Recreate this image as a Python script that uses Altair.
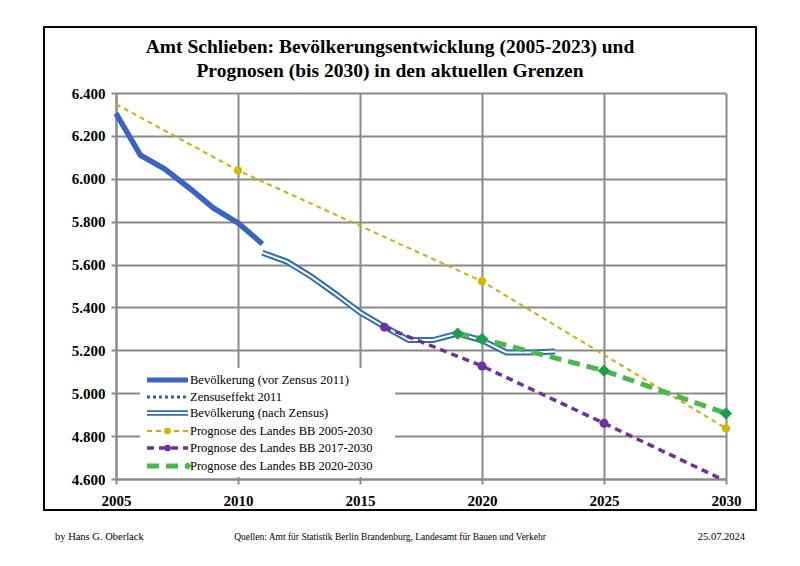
import altair as alt
import pandas as pd

# ---- data ----
years_pre = [2005, 2006, 2007, 2008, 2009, 2010, 2011]
pop_pre = [6305, 6110, 6045, 5957, 5863, 5794, 5696]

years_post = [2011, 2012, 2013, 2014, 2015, 2016, 2017, 2018, 2019, 2020, 2021, 2022, 2023]
pop_post = [5655, 5614, 5544, 5463, 5377, 5310, 5248, 5248, 5278, 5247, 5190, 5190, 5195]

years_p05 = [2005, 2010, 2020, 2030]
vals_p05 = [6348, 6039, 5522, 4836]
marker_p05 = [False, True, True, True]

years_p17 = [2016, 2020, 2025, 2030]
vals_p17 = [5308, 5127, 4860, 4590]
marker_p17 = [True, True, True, False]

years_p20 = [2019, 2020, 2025, 2030]
vals_p20 = [5278, 5253, 5105, 4906]

x_ticks = [2005, 2010, 2015, 2020, 2025, 2030]
y_ticks = [4600, 4800, 5000, 5200, 5400, 5600, 5800, 6000, 6200, 6400]

title_lines = ["Amt Schlieben:  Bevölkerungsentwicklung (2005-2023) und",
               "Prognosen (bis 2030) in den aktuellen Grenzen"]
legend_labels = ["Bevölkerung (vor Zensus 2011)", "Zensuseffekt 2011",
                 "Bevölkerung (nach Zensus)", "Prognose des Landes BB 2005-2030",
                 "Prognose des Landes BB 2017-2030", "Prognose des Landes BB 2020-2030"]
footer_left = "by Hans G. Oberlack"
footer_mid = "Quellen: Amt für Statistik Berlin Brandenburg, Landesamt für Bauen und Verkehr"
footer_right = "25.07.2024"

# ---- styles ----
SERIF = "Liberation Serif"
C_PRE = "#3a63c2"
C_POST = "#2e6db4"
C_Y = "#c9b300"
C_YM = "#d4b800"
C_P = "#7030a0"
C_G = "#4cb84c"
C_GM = "#1c9e4c"
GRID = "#8a8a8a"

W, H = 610, 386

xs = alt.Scale(domain=[2005, 2030], nice=False)
ys = alt.Scale(domain=[4600, 6400], nice=False)
x_axis = alt.Axis(values=x_ticks, format="d", title=None, grid=True, labelPadding=9,
                  labelFlush=False)
y_axis = alt.Axis(values=y_ticks, title=None, grid=True, labelPadding=6, labelFlush=False,
                  labelExpr="replace(format(datum.value, ',.0f'), ',', '.')")

def xe():
    return alt.X("year:Q", scale=xs, axis=x_axis)

def ye():
    return alt.Y("v:Q", scale=ys, axis=y_axis)

df_pre = pd.DataFrame({"year": years_pre, "v": pop_pre})
df_post = pd.DataFrame({"year": years_post, "v": pop_post})
df_p05 = pd.DataFrame({"year": years_p05, "v": vals_p05, "m": marker_p05})
df_p17 = pd.DataFrame({"year": years_p17, "v": vals_p17, "m": marker_p17})
df_p20 = pd.DataFrame({"year": years_p20, "v": vals_p20})
dummy = pd.DataFrame({"a": [0]})

layers = []

# axes/grid carrier
layers.append(alt.Chart(df_pre).mark_point(opacity=0).encode(x=xe(), y=ye()))

# legend background (covers gridlines)
layers.append(alt.Chart(dummy).mark_rect(fill="white").encode(
    x=alt.value(24), x2=alt.value(279), y=alt.value(275), y2=alt.value(384)))

# series
layers.append(alt.Chart(df_p05).mark_line(color=C_Y, strokeWidth=2, strokeDash=[5, 4]).encode(x=xe(), y=ye()))
layers.append(alt.Chart(df_pre).mark_line(color=C_PRE, strokeWidth=5.5).encode(x=xe(), y=ye()))
layers.append(alt.Chart(df_post).mark_line(color=C_POST, strokeWidth=6).encode(x=xe(), y=ye()))
layers.append(alt.Chart(df_post).mark_line(color="white", strokeWidth=2).encode(x=xe(), y=ye()))
layers.append(alt.Chart(df_p17).mark_line(color=C_P, strokeWidth=3.5, strokeDash=[7, 5], clip=True).encode(x=xe(), y=ye()))
layers.append(alt.Chart(df_p20).mark_line(color=C_G, strokeWidth=5, strokeDash=[12, 7]).encode(x=xe(), y=ye()))

# markers
layers.append(alt.Chart(df_p05).transform_filter("datum.m").mark_point(
    shape="circle", filled=True, color=C_YM, size=70, opacity=1).encode(x=xe(), y=ye()))
layers.append(alt.Chart(df_p17).transform_filter("datum.m").mark_point(
    shape="circle", filled=True, color=C_P, size=80, opacity=1).encode(x=xe(), y=ye()))
layers.append(alt.Chart(df_p20).mark_point(
    shape="diamond", filled=True, color=C_GM, size=150, opacity=1).encode(x=xe(), y=ye()))

# legend entries
ly = [287, 304, 320, 338, 355, 373]
sx1, sx2, tx = 31, 72, 74

def rule(y, color, width, dash=None):
    kw = dict(color=color, strokeWidth=width)
    if dash:
        kw["strokeDash"] = dash
    return alt.Chart(dummy).mark_rule(**kw).encode(
        x=alt.value(sx1), x2=alt.value(sx2), y=alt.value(y))

layers.append(rule(ly[0], C_PRE, 5))
layers.append(rule(ly[1], "#2f5fa8", 3, [3, 3]))
layers.append(rule(ly[2], C_POST, 5.5))
layers.append(rule(ly[2], "white", 1.8))
layers.append(rule(ly[3], C_Y, 2, [5, 4]))
layers.append(rule(ly[4], C_P, 3.5, [7, 5]))
layers.append(rule(ly[5], C_G, 5, [12, 7]))
mx = (sx1 + sx2) / 2
layers.append(alt.Chart(dummy).mark_point(shape="circle", filled=True, color=C_YM, size=45, opacity=1).encode(
    x=alt.value(mx), y=alt.value(ly[3])))
layers.append(alt.Chart(dummy).mark_point(shape="circle", filled=True, color=C_P, size=45, opacity=1).encode(
    x=alt.value(mx), y=alt.value(ly[4])))
layers.append(alt.Chart(dummy).mark_point(shape="diamond", filled=True, color=C_G, size=60, opacity=1).encode(
    x=alt.value(sx2), y=alt.value(ly[5])))
for lab, yy in zip(legend_labels, ly):
    layers.append(alt.Chart(dummy).mark_text(text=lab, align="left", baseline="middle",
                                             font=SERIF, fontSize=12.5, color="black").encode(
        x=alt.value(tx), y=alt.value(yy)))

# title
for i, t in enumerate(title_lines):
    layers.append(alt.Chart(dummy).mark_text(text=t, align="center", baseline="middle",
                                             font=SERIF, fontSize=19.5, fontWeight="bold",
                                             color="black").encode(
        x=alt.value(274), y=alt.value(-46 + 24 * i)))

# frame
layers.append(alt.Chart(dummy).mark_rect(fill=None, stroke="black", strokeWidth=2).encode(
    x=alt.value(-72), x2=alt.value(640), y=alt.value(-66), y2=alt.value(417)))

# footer
layers.append(alt.Chart(dummy).mark_text(text=footer_left, align="left", baseline="middle",
                                         font=SERIF, fontSize=10.5, color="black").encode(
    x=alt.value(-61), y=alt.value(444)))
layers.append(alt.Chart(dummy).mark_text(text=footer_mid, align="center", baseline="middle",
                                         font=SERIF, fontSize=9.5, color="black").encode(
    x=alt.value(274), y=alt.value(444)))
layers.append(alt.Chart(dummy).mark_text(text=footer_right, align="right", baseline="middle",
                                         font=SERIF, fontSize=10.5, color="black").encode(
    x=alt.value(629), y=alt.value(444)))

chart = alt.layer(*layers).properties(
    width=W, height=H,
    autosize=alt.AutoSizeParams(type="none"),
    padding={"left": 108, "top": 85, "right": 66, "bottom": 79},
    background="white",
).configure_view(stroke=None).configure_axis(
    gridColor=GRID, gridWidth=2, domainColor=GRID, domainWidth=2,
    tickColor=GRID, tickWidth=2, tickSize=5,
    labelFont=SERIF, labelFontSize=15, labelFontWeight="bold", labelColor="black",
)

chart.save("out.html", embed_options={"renderer": "svg", "actions": False})
